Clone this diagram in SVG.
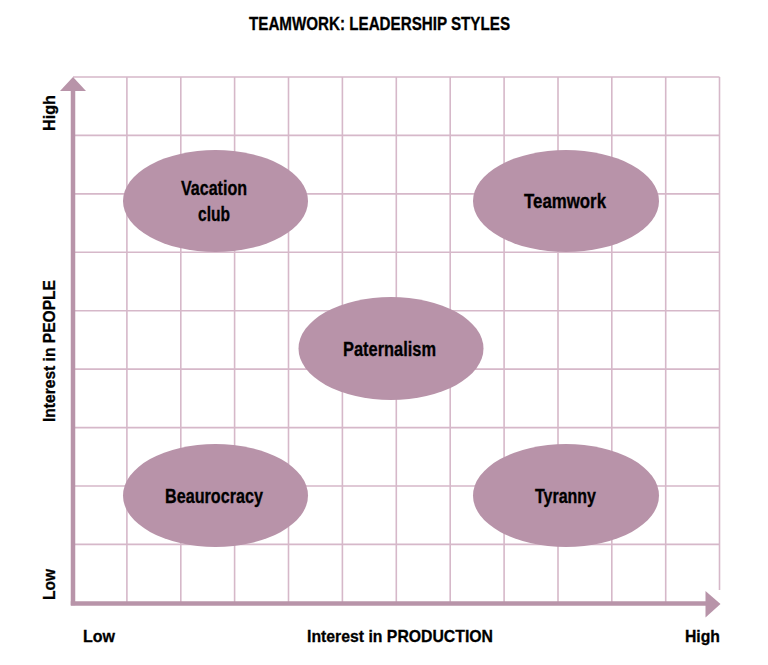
<svg xmlns="http://www.w3.org/2000/svg" width="768" height="665" viewBox="0 0 768 665">
<style>
.t{font-family:"Liberation Sans",Arial,sans-serif;font-weight:bold;fill:#000;stroke:#000;stroke-width:0.3;text-anchor:middle}
.g{stroke:#d6b8c9;stroke-width:1.6;fill:none}
.ax{stroke:#b894a9;stroke-width:4.5;fill:none}
.ah{fill:#b894a9}
.el{fill:#b893a9}
</style>
<rect width="768" height="665" fill="#fff"/>
<text class="t" x="379.5" y="29.5" font-size="18" textLength="261" lengthAdjust="spacingAndGlyphs">TEAMWORK: LEADERSHIP STYLES</text>
<g id="grid">
<path class="g" d="M73 77H719.5M73 135.4H719.5M73 193.9H719.5M73 252.3H719.5M73 310.7H719.5M73 369.1H719.5M73 427.6H719.5M73 486H719.5M73 544.4H719.5"/>
<path class="g" d="M126.9 77V603M180.8 77V603M234.6 77V603M288.5 77V603M342.4 77V603M396.3 77V603M450.2 77V603M504.1 77V603M558 77V603M611.8 77V603M665.7 77V603M719.5 77V590"/>
</g>
<g id="connectors">
<path class="ax" d="M73 605.2V90"/>
<polygon class="ah" points="73,77 86,91 60,91"/>
<path class="ax" d="M70.8 603.5H707"/>
<polygon class="ah" points="720.5,604 705.5,591 705.5,617.5"/>
</g>
<g id="axis-labels">
<text class="t" x="0" y="0" font-size="17" transform="translate(55,113) rotate(-90)" textLength="36" lengthAdjust="spacingAndGlyphs">High</text>
<text class="t" x="0" y="0" font-size="17" transform="translate(54.5,351) rotate(-90)" textLength="142" lengthAdjust="spacingAndGlyphs">Interest in PEOPLE</text>
<text class="t" x="0" y="0" font-size="17" transform="translate(54.5,584.5) rotate(-90)" textLength="31" lengthAdjust="spacingAndGlyphs">Low</text>
<text class="t" x="99" y="642" font-size="17" textLength="32" lengthAdjust="spacingAndGlyphs">Low</text>
<text class="t" x="400" y="642" font-size="17" textLength="186" lengthAdjust="spacingAndGlyphs">Interest in PRODUCTION</text>
<text class="t" x="702.5" y="642" font-size="17" textLength="35" lengthAdjust="spacingAndGlyphs">High</text>
</g>
<g id="vacation-club">
<ellipse class="el" cx="215.5" cy="201" rx="92.5" ry="51"/>
<text class="t" x="214" y="195" font-size="20" textLength="66" lengthAdjust="spacingAndGlyphs">Vacation</text>
<text class="t" x="214" y="221" font-size="20" textLength="32" lengthAdjust="spacingAndGlyphs">club</text>
</g>
<g id="teamwork">
<ellipse class="el" cx="566" cy="201" rx="93" ry="51"/>
<text class="t" x="565" y="208" font-size="20" textLength="82" lengthAdjust="spacingAndGlyphs">Teamwork</text>
</g>
<g id="paternalism">
<ellipse class="el" cx="391" cy="348.5" rx="92.5" ry="51.5"/>
<text class="t" x="389.5" y="355.5" font-size="20" textLength="93" lengthAdjust="spacingAndGlyphs">Paternalism</text>
</g>
<g id="beaurocracy">
<ellipse class="el" cx="215.5" cy="495.5" rx="92.5" ry="51.5"/>
<text class="t" x="214" y="502.5" font-size="20" textLength="98" lengthAdjust="spacingAndGlyphs">Beaurocracy</text>
</g>
<g id="tyranny">
<ellipse class="el" cx="566" cy="495.5" rx="93" ry="51.5"/>
<text class="t" x="565.5" y="502.5" font-size="20" textLength="61" lengthAdjust="spacingAndGlyphs">Tyranny</text>
</g>
</svg>
